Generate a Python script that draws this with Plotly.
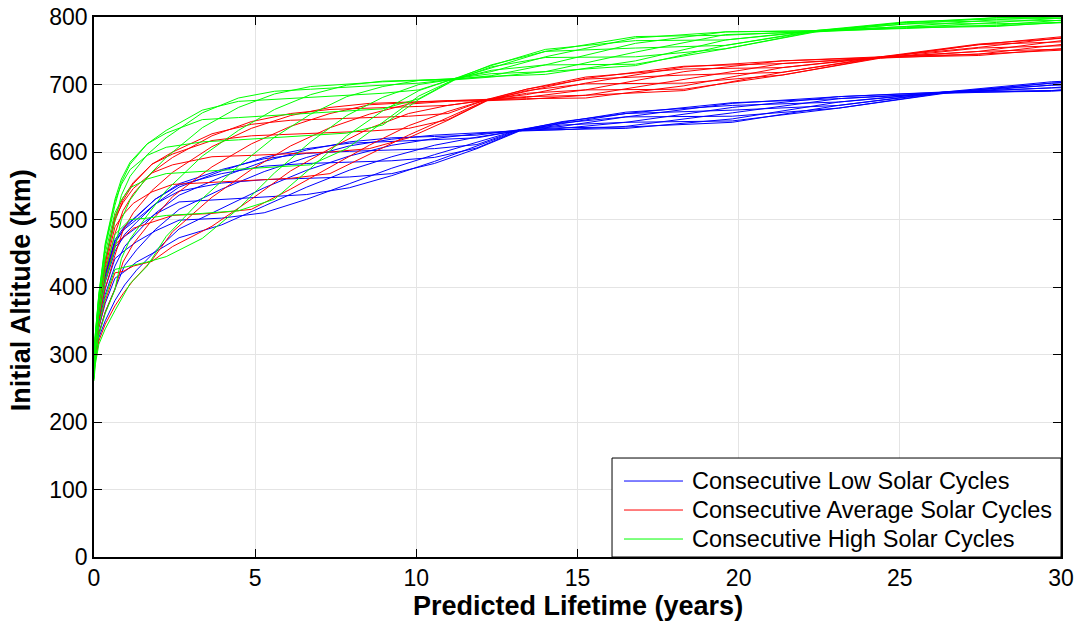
import plotly.graph_objects as go

# Predicted orbital lifetime (years) at which each curve is sampled, per scenario
low_years = [0, 0.04, 0.15, 0.35, 0.65, 0.95, 1.32, 1.9, 2.64, 3.96, 5.28, 6.6, 7.92, 9.24,
             10.56, 11.88, 13.2, 14.52, 16.5, 19.8, 23.1, 26.4, 29.7, 33.0]
avg_years = [0, 0.04, 0.15, 0.35, 0.65, 0.9, 1.22, 1.8, 2.44, 3.66, 4.88, 6.1, 7.32, 8.54,
             9.76, 10.98, 12.2, 13.42, 15.25, 18.3, 21.35, 24.4, 27.45, 30.5]
high_years = [0, 0.04, 0.15, 0.35, 0.65, 0.85, 1.12, 1.65, 2.24, 3.36, 4.48, 5.6, 6.72, 7.84,
              8.96, 10.08, 11.2, 12.32, 14.0, 16.8, 19.6, 22.4, 25.2, 28.0, 30.2]

# Initial altitude (km) for each launch epoch within the solar cycle
low_alt = [
    [289, 315, 357, 407, 453, 478, 496, 523, 548, 572, 592, 605, 613, 616, 618, 621, 632, 642, 657, 673, 679, 688, 702, 713],
    [290, 319, 363, 416, 465, 488, 504, 530, 553, 574, 590, 598, 601, 603, 605, 611, 633, 644, 659, 669, 674, 689, 704, 711],
    [291, 320, 365, 420, 470, 490, 505, 530, 551, 568, 579, 583, 585, 587, 592, 606, 632, 645, 657, 662, 669, 688, 702, 706],
    [291, 319, 364, 419, 468, 486, 500, 523, 542, 554, 559, 561, 563, 568, 583, 605, 631, 643, 652, 653, 665, 687, 699, 701],
    [290, 317, 360, 412, 459, 475, 488, 508, 526, 530, 533, 537, 547, 565, 586, 609, 632, 640, 644, 646, 665, 688, 695, 697],
    [287, 312, 352, 398, 442, 454, 467, 483, 499, 502, 510, 530, 553, 576, 596, 615, 633, 636, 637, 644, 669, 689, 691, 696],
    [283, 304, 340, 376, 413, 423, 437, 452, 473, 492, 520, 548, 573, 593, 610, 622, 632, 633, 635, 649, 674, 688, 690, 699],
    [279, 295, 325, 350, 380, 403, 425, 453, 486, 517, 547, 573, 594, 610, 620, 627, 631, 633, 638, 658, 679, 687, 691, 704],
    [281, 300, 332, 363, 397, 432, 455, 485, 515, 545, 571, 592, 609, 619, 625, 628, 632, 635, 644, 666, 682, 688, 695, 709],
    [286, 309, 347, 389, 431, 460, 480, 509, 536, 563, 586, 603, 615, 621, 623, 625, 633, 638, 652, 672, 682, 689, 699, 712],
]
avg_alt = [
    [281, 318, 364, 422, 479, 513, 538, 570, 592, 624, 645, 657, 663, 665, 667, 669, 677, 690, 709, 727, 731, 740, 759, 773],
    [282, 323, 372, 435, 498, 528, 553, 582, 600, 627, 641, 647, 649, 651, 653, 657, 678, 693, 711, 723, 725, 741, 760, 770],
    [283, 325, 375, 440, 505, 532, 555, 582, 597, 617, 624, 626, 628, 631, 635, 648, 677, 693, 708, 714, 718, 740, 759, 764],
    [283, 324, 374, 438, 502, 525, 546, 569, 581, 593, 595, 597, 600, 605, 621, 647, 676, 691, 701, 702, 714, 739, 754, 758],
    [282, 321, 368, 429, 489, 507, 524, 541, 552, 555, 558, 561, 568, 596, 625, 651, 677, 687, 692, 693, 714, 740, 749, 753],
    [279, 314, 358, 410, 463, 474, 487, 496, 506, 509, 515, 545, 577, 610, 639, 660, 678, 682, 684, 691, 718, 741, 745, 752],
    [275, 303, 340, 380, 421, 423, 431, 438, 460, 490, 530, 572, 605, 635, 657, 669, 677, 679, 680, 698, 725, 740, 743, 755],
    [271, 290, 320, 345, 372, 390, 410, 440, 482, 533, 574, 609, 636, 656, 671, 675, 676, 678, 684, 708, 731, 739, 745, 762],
    [273, 296, 330, 363, 397, 437, 464, 499, 534, 578, 612, 638, 657, 670, 673, 676, 677, 681, 692, 719, 735, 740, 749, 768],
    [278, 310, 351, 398, 447, 484, 510, 543, 570, 608, 635, 654, 666, 672, 674, 676, 678, 685, 702, 726, 735, 741, 755, 772],
]
high_alt = [
    [273, 321, 376, 441, 498, 536, 564, 596, 621, 658, 680, 690, 693, 696, 699, 702, 708, 724, 749, 771, 773, 779, 792, 799, 800],
    [275, 328, 386, 458, 521, 555, 582, 612, 632, 662, 675, 678, 681, 684, 687, 692, 709, 728, 752, 765, 766, 780, 793, 797, 798],
    [276, 330, 390, 465, 530, 560, 585, 612, 628, 648, 651, 654, 657, 660, 664, 679, 708, 729, 749, 754, 758, 779, 792, 794, 795],
    [275, 329, 388, 462, 527, 552, 574, 595, 607, 615, 618, 621, 624, 628, 640, 678, 707, 726, 740, 741, 753, 778, 790, 790, 792],
    [274, 325, 381, 450, 510, 529, 547, 560, 568, 571, 574, 577, 581, 605, 644, 683, 708, 721, 729, 730, 753, 779, 786, 787, 792],
    [271, 316, 366, 425, 478, 487, 500, 502, 506, 509, 513, 530, 576, 624, 661, 691, 709, 716, 719, 728, 758, 780, 784, 786, 793],
    [266, 301, 343, 385, 426, 428, 431, 437, 445, 472, 516, 569, 615, 654, 681, 700, 708, 712, 715, 735, 766, 779, 783, 788, 796],
    [261, 285, 315, 338, 365, 383, 405, 431, 475, 531, 579, 622, 656, 682, 697, 706, 707, 711, 719, 748, 774, 778, 784, 792, 799],
    [264, 293, 329, 361, 396, 442, 471, 506, 543, 594, 632, 663, 685, 699, 705, 707, 708, 713, 729, 761, 778, 779, 786, 796, 801],
    [269, 310, 357, 409, 458, 500, 529, 563, 592, 636, 666, 686, 697, 701, 704, 706, 709, 719, 741, 769, 778, 780, 790, 799, 802],
]

series_names = ["Consecutive Low Solar Cycles",
                "Consecutive Average Solar Cycles",
                "Consecutive High Solar Cycles"]
series_colors = ["#0000FF", "#FF0000", "#00FF00"]

FONT = "Arial, 'Liberation Sans', Helvetica, sans-serif"

fig = go.Figure()
for name, color, years, curves in zip(series_names, series_colors,
                                      [low_years, avg_years, high_years],
                                      [low_alt, avg_alt, high_alt]):
    for alt in curves:
        fig.add_trace(go.Scatter(
            x=years, y=alt, mode="lines",
            line=dict(color=color, width=1),
            name=name, showlegend=False, hoverinfo="skip",
        ))

axis_common = dict(
    showline=True, linecolor="black", linewidth=1.5, mirror="allticks",
    ticks="inside", ticklen=8, tickwidth=1, tickcolor="black",
    showgrid=True, gridcolor="#e4e4e4", gridwidth=1, zeroline=False,
    automargin=False,
    tickfont=dict(size=23, color="black", family=FONT),
)

fig.update_xaxes(range=[0, 30], tickvals=[0, 5, 10, 15, 20, 25, 30], **axis_common)
fig.update_yaxes(range=[0, 800], tickvals=[0, 100, 200, 300, 400, 500, 600, 700, 800], **axis_common)

# Axis titles
fig.add_annotation(text="<b>Predicted Lifetime (years)</b>", xref="paper", yref="paper",
                   x=0.5, y=-0.0907, xanchor="center", yanchor="middle", showarrow=False,
                   font=dict(size=27, color="black", family=FONT))
fig.add_annotation(text="<b>Initial Altitude (km)</b>", xref="paper", yref="paper",
                   x=-0.0755, y=0.494, xanchor="center", yanchor="middle", showarrow=False,
                   textangle=-90, font=dict(size=27, color="black", family=FONT))

# Boxed legend in the lower-right corner of the axes
legend_box = dict(x0=0.5357, x1=1.0, y0=0.0, y1=0.1833)
legend_rows = [0.1407, 0.0870, 0.0333]
fig.add_shape(type="rect", xref="paper", yref="paper", **legend_box,
              line=dict(color="black", width=1), fillcolor="white", layer="above")
for name, color, yrow in zip(series_names, series_colors, legend_rows):
    fig.add_shape(type="line", xref="paper", yref="paper",
                  x0=0.5481, x1=0.6091, y0=yrow, y1=yrow,
                  line=dict(color=color, width=1), layer="above")
    fig.add_annotation(text=name, xref="paper", yref="paper", x=0.6163, y=yrow,
                       xanchor="left", yanchor="middle", showarrow=False,
                       font=dict(size=23.5, color="black", family=FONT))

fig.update_layout(
    width=1077, height=623,
    margin=dict(l=94, r=16, t=17, b=66, autoexpand=False),
    plot_bgcolor="white", paper_bgcolor="white",
    font=dict(family=FONT, color="black"),
    showlegend=False,
)

fig.write_html("out.html")
